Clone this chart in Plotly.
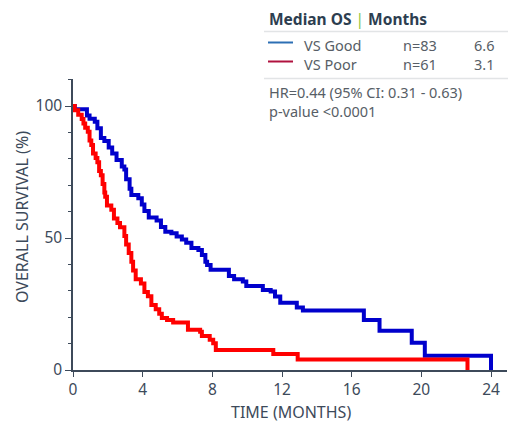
import plotly.graph_objects as go

# ---- data ----
good_t = [0, 0.1, 0.8, 0.95, 1.25, 1.4, 1.6, 1.8, 2.05, 2.25, 2.5, 2.8, 2.95, 3.05, 3.25, 3.35,
          3.75, 3.95, 4.1, 4.35, 4.8, 5.05, 5.3, 5.65, 5.95, 6.25, 6.5, 6.8, 7.2, 7.4, 7.6, 7.7,
          7.9, 8.95, 9.25, 9.75, 9.95, 10.9, 11.35, 11.6, 11.9, 12.85, 13.2, 16.7, 17.6, 19.45,
          20.2, 24.0]
good_s = [100, 98.8, 96.4, 95.2, 94.0, 91.6, 87.9, 86.7, 84.3, 82.0, 79.5, 77.1, 75.9, 72.3, 68.7, 66.3,
          65.1, 62.7, 60.2, 57.8, 56.6, 54.2, 52.4, 51.8, 50.6, 49.4, 48.2, 46.2, 45.5, 43.6, 41.0, 39.8,
          38.0, 35.6, 34.4, 33.5, 31.8, 30.3, 29.7, 27.8, 25.5, 23.7, 22.5, 18.9, 14.9, 10.3,
          5.4, 0]

poor_t = [0, 0.1, 0.3, 0.5, 0.6, 0.7, 0.85, 0.95, 1.05, 1.15, 1.3, 1.4, 1.5, 1.6, 1.7, 1.8, 1.85,
          1.95, 2.2, 2.35, 2.55, 2.7, 2.95, 3.05, 3.2, 3.35, 3.45, 3.6, 3.9, 4.1, 4.3, 4.5, 4.75,
          4.95, 5.1, 5.4, 5.75, 6.6, 7.3, 7.4, 7.85, 8.05, 8.2, 11.5, 12.9, 22.65]
poor_s = [100, 98.4, 96.7, 95.1, 93.4, 91.8, 90.2, 86.9, 85.2, 82.0, 80.3, 78.7, 75.4, 73.8, 70.5, 67.2, 65.6,
          62.3, 60.7, 57.4, 55.7, 54.1, 50.8, 47.5, 44.3, 41.0, 37.7, 34.4, 32.8, 29.5, 27.9, 24.6, 23.0,
          21.3, 19.7, 18.9, 18.0, 15.2, 14.5, 12.9, 11.5, 10.1, 7.6, 6.1, 4.0, 0]

x_ticks = [0, 4, 8, 12, 16, 20, 24]
y_ticks = [0, 50, 100]

groups = ["VS Good", "VS Poor"]
n_values = ["n=83", "n=61"]
medians = ["6.6", "3.1"]
hr_text = "HR=0.44 (95% CI: 0.31 - 0.63)"
p_text = "p-value <0.0001"

# ---- layout geometry (pixels) ----
W, H = 508, 422
L, R, T, B = 73, 1, 79, 52
X0, X1 = L, W - R
Y0, Y1 = H - B, T

def px(x):
    return (x - X0) / (X1 - X0)

def py(y):
    return (Y0 - y) / (Y0 - Y1)

axis_col = "#3d4a5a"
text_col = "#575e66"
head_col = "#2d3e50"
FONT = "Noto Sans"
LFS = 14.5

fig = go.Figure()
fig.add_trace(go.Scatter(x=good_t, y=good_s, mode="lines", line=dict(color="#0000cc", width=4, shape="hv"),
                         showlegend=False, hoverinfo="skip"))
fig.add_trace(go.Scatter(x=poor_t, y=poor_s, mode="lines", line=dict(color="#ff0000", width=4, shape="hv"),
                         showlegend=False, hoverinfo="skip"))

fig.update_layout(
    width=W, height=H,
    margin=dict(l=L, r=R, t=T, b=B, pad=0),
    paper_bgcolor="white", plot_bgcolor="white",
    font=dict(family=FONT, size=15, color=axis_col),
    xaxis=dict(range=[0, 24 * (X1 - X0) / (491 - X0)], tickvals=x_ticks, ticks="outside", ticklen=5,
               tickcolor=axis_col, showline=True, linecolor=axis_col, linewidth=1.5, showgrid=False,
               zeroline=False, tickfont=dict(size=15.5, color=axis_col)),
    yaxis=dict(range=[0, 100 * (Y0 - Y1) / (Y0 - 106)], tickvals=y_ticks, ticks="outside", ticklen=6,
               tickcolor=axis_col, showline=True, linecolor=axis_col, linewidth=1.5, showgrid=False,
               zeroline=False, tickfont=dict(size=15.5, color=axis_col),
               minor=dict(dtick=10, tick0=0, ticks="outside", ticklen=3, tickcolor=axis_col, showgrid=False)),
)

def note(text, x, y, size=LFS, color=text_col, anchor="left", **kw):
    return dict(text=text, x=px(x), y=py(y), xref="paper", yref="paper", showarrow=False,
                xanchor=anchor, yanchor="middle", font=dict(size=size, color=color), **kw)

ann = []
# axis titles
ann.append(note("TIME (MONTHS)", 291, 412, size=16, color=axis_col, anchor="center"))
ann.append(note("OVERALL SURVIVAL (%)", 22, 217, size=16, color=axis_col, anchor="center", textangle=-90))

# legend header
ann.append(note("<b>Median OS</b> <span style='color:#8cc63f'>|</span> <b>Months</b>", 267, 19,
                size=15.5, color=head_col))

# legend rows (one multi-line text per column)
ann.append(note("<br>".join(groups), 302, 54.5, align="left"))
ann.append(note("<br>".join(n_values), 401, 54.5, align="left"))
ann.append(note("<br>".join(medians), 472, 54.5, align="left"))

line_y = [42.5, 61.5]
leg_cols = ["#2c6fb4", "#b0123f"]
shapes = []
for i in range(2):
    shapes.append(dict(type="line", xref="paper", yref="paper", x0=px(268), x1=px(293),
                       y0=py(line_y[i]), y1=py(line_y[i]), line=dict(color=leg_cols[i], width=2)))

ann.append(note(hr_text + "<br>" + p_text, 267, 101.5, align="left"))

for yy in [31.5, 78.5]:
    shapes.append(dict(type="line", xref="paper", yref="paper", x0=px(264), x1=px(508),
                       y0=py(yy), y1=py(yy), line=dict(color="#e2e4e6", width=1.5)))

fig.update_layout(annotations=ann, shapes=shapes)
fig.write_html("out.html")
